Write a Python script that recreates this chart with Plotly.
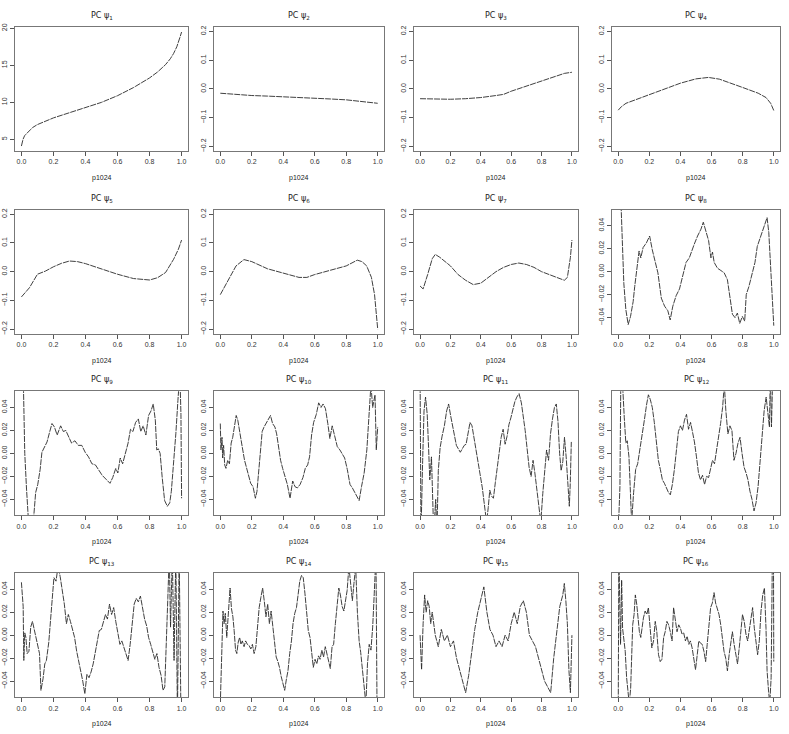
import plotly.graph_objects as go

# ---------------- data ----------------
titles = ["PC ψ<sub>%d</sub>" % i for i in range(1, 17)]
x_label = "p1024"
x_ticks = [0.0, 0.2, 0.4, 0.6, 0.8, 1.0]
y_ticks_pc1 = [5, 10, 15, 20]
y_ticks_mid = [-0.2, -0.1, 0.0, 0.1, 0.2]
y_ticks_small = [-0.04, -0.02, 0.0, 0.02, 0.04]

psi1_x = [0.0, 0.005, 0.01, 0.02, 0.04, 0.07, 0.1, 0.15, 0.2, 0.3, 0.4, 0.5, 0.6, 0.7, 0.8, 0.85, 0.9, 0.93, 0.95, 0.97, 0.99, 1.0]
psi1_y = [4.1, 4.6, 5.0, 5.5, 6.0, 6.6, 7.0, 7.5, 7.9, 8.6, 9.25, 10.0, 10.9, 12.0, 13.3, 14.1, 15.1, 15.9, 16.6, 17.5, 18.8, 19.5]

psi2_x = [0.0, 0.1, 0.2, 0.3, 0.4, 0.5, 0.6, 0.7, 0.8, 0.9, 1.0]
psi2_y = [-0.015, -0.02, -0.023, -0.025, -0.027, -0.030, -0.032, -0.035, -0.038, -0.043, -0.05]

psi3_x = [0.0, 0.1, 0.2, 0.3, 0.4, 0.5, 0.55, 0.6, 0.7, 0.8, 0.9, 0.95, 1.0]
psi3_y = [-0.034, -0.035, -0.036, -0.034, -0.030, -0.023, -0.019, -0.008, 0.009, 0.027, 0.044, 0.054, 0.058]

psi4_x = [0.0, 0.02, 0.05, 0.1, 0.2, 0.3, 0.4, 0.5, 0.58, 0.65, 0.7, 0.8, 0.9, 0.95, 0.98, 1.0]
psi4_y = [-0.074, -0.062, -0.05, -0.04, -0.02, 0.0, 0.02, 0.035, 0.04, 0.034, 0.025, 0.005, -0.015, -0.03, -0.05, -0.075]

psi5_x = [0.0, 0.05, 0.1, 0.15, 0.2, 0.25, 0.3, 0.35, 0.4, 0.5, 0.6, 0.7, 0.8, 0.85, 0.9, 0.95, 0.98, 1.0]
psi5_y = [-0.088, -0.056, -0.009, 0.002, 0.017, 0.029, 0.037, 0.035, 0.028, 0.010, -0.009, -0.024, -0.029, -0.021, -0.003, 0.043, 0.078, 0.11]

psi6_x = [0.0, 0.03, 0.06, 0.1, 0.15, 0.2, 0.3, 0.4, 0.5, 0.55, 0.6, 0.7, 0.8, 0.87, 0.9, 0.93, 0.96, 0.98, 1.0]
psi6_y = [-0.08, -0.05, -0.02, 0.02, 0.042, 0.035, 0.01, -0.005, -0.02, -0.02, -0.01, 0.005, 0.02, 0.04, 0.035, 0.02, -0.02, -0.08, -0.2]

psi7_x = [0.0, 0.02, 0.05, 0.08, 0.1, 0.13, 0.2, 0.25, 0.3, 0.35, 0.4, 0.45, 0.5, 0.55, 0.6, 0.65, 0.7, 0.75, 0.8, 0.85, 0.9, 0.95, 0.97, 0.99, 1.0]
psi7_y = [-0.05, -0.06, -0.01, 0.045, 0.06, 0.05, 0.02, -0.01, -0.03, -0.045, -0.04, -0.02, 0.0, 0.015, 0.025, 0.03, 0.025, 0.015, 0.0, -0.01, -0.02, -0.03, -0.02, 0.05, 0.11]

psi8_x = [0.015, 0.021, 0.036, 0.049, 0.064, 0.079, 0.096, 0.106, 0.117, 0.134, 0.145, 0.16, 0.181, 0.202, 0.219, 0.24, 0.255, 0.277, 0.298, 0.319, 0.334, 0.351, 0.372, 0.394, 0.415, 0.436, 0.457, 0.474, 0.489, 0.51, 0.532, 0.547, 0.564, 0.581, 0.596, 0.606, 0.617, 0.638, 0.66, 0.681, 0.702, 0.717, 0.734, 0.751, 0.766, 0.781, 0.798, 0.813, 0.823, 0.84, 0.862, 0.879, 0.894, 0.909, 0.926, 0.943, 0.957, 0.968, 0.979, 0.989, 1.0]
psi8_y = [0.07, 0.047, -0.01, -0.033, -0.046, -0.039, -0.026, -0.013, 0.0, 0.018, 0.012, 0.021, 0.025, 0.031, 0.019, 0.008, -0.001, -0.023, -0.03, -0.034, -0.042, -0.03, -0.021, -0.015, -0.004, 0.008, 0.012, 0.019, 0.024, 0.031, 0.037, 0.043, 0.034, 0.027, 0.012, 0.017, 0.008, 0.003, 0.001, -0.001, -0.007, -0.023, -0.037, -0.04, -0.036, -0.045, -0.039, -0.043, -0.02, -0.013, -0.001, 0.008, 0.022, 0.028, 0.036, 0.043, 0.047, 0.034, 0.005, -0.018, -0.047]

psi9_x = [0.011, 0.021, 0.032, 0.049, 0.074, 0.089, 0.102, 0.117, 0.128, 0.145, 0.16, 0.177, 0.191, 0.206, 0.223, 0.245, 0.262, 0.277, 0.298, 0.313, 0.334, 0.355, 0.377, 0.398, 0.419, 0.44, 0.462, 0.483, 0.504, 0.532, 0.553, 0.57, 0.589, 0.602, 0.617, 0.632, 0.649, 0.666, 0.681, 0.696, 0.713, 0.73, 0.745, 0.76, 0.777, 0.794, 0.809, 0.823, 0.836, 0.845, 0.855, 0.866, 0.879, 0.894, 0.911, 0.926, 0.936, 0.951, 0.964, 0.977, 0.989, 0.996, 1.0]
psi9_y = [0.07, 0.0, -0.031, -0.07, -0.06, -0.034, -0.027, -0.014, 0.001, 0.006, 0.01, 0.019, 0.026, 0.023, 0.016, 0.024, 0.019, 0.02, 0.013, 0.009, 0.011, 0.007, 0.007, 0.001, -0.003, -0.009, -0.01, -0.014, -0.019, -0.023, -0.026, -0.021, -0.013, -0.017, -0.004, -0.009, 0.001, 0.009, 0.021, 0.019, 0.027, 0.03, 0.019, 0.024, 0.016, 0.033, 0.037, 0.043, 0.029, 0.003, 0.004, 0.0, -0.021, -0.041, -0.046, -0.043, -0.033, -0.009, 0.017, 0.046, 0.07, 0.034, -0.039]

psi10_x = [0.0, 0.004, 0.011, 0.015, 0.021, 0.028, 0.036, 0.047, 0.058, 0.069, 0.079, 0.09, 0.101, 0.111, 0.122, 0.139, 0.154, 0.176, 0.193, 0.208, 0.223, 0.233, 0.246, 0.255, 0.266, 0.278, 0.293, 0.304, 0.319, 0.332, 0.347, 0.358, 0.368, 0.383, 0.396, 0.411, 0.426, 0.443, 0.46, 0.475, 0.49, 0.507, 0.525, 0.54, 0.555, 0.567, 0.58, 0.593, 0.61, 0.625, 0.64, 0.653, 0.668, 0.683, 0.696, 0.711, 0.726, 0.743, 0.76, 0.775, 0.79, 0.807, 0.824, 0.839, 0.854, 0.867, 0.882, 0.897, 0.914, 0.931, 0.946, 0.957, 0.968, 0.983, 0.991, 1.0]
psi10_y = [0.026, 0.003, 0.014, -0.004, 0.007, -0.01, -0.013, -0.006, -0.009, 0.009, 0.014, 0.026, 0.033, 0.029, 0.021, 0.006, -0.006, -0.017, -0.026, -0.029, -0.039, -0.033, -0.014, 0.003, 0.019, 0.023, 0.027, 0.029, 0.033, 0.026, 0.023, 0.017, 0.007, -0.006, -0.013, -0.019, -0.027, -0.039, -0.024, -0.029, -0.03, -0.027, -0.021, -0.013, -0.01, -0.003, 0.016, 0.027, 0.034, 0.044, 0.04, 0.043, 0.039, 0.026, 0.013, 0.024, 0.016, 0.006, 0.003, 0.0, -0.004, -0.014, -0.027, -0.03, -0.034, -0.037, -0.041, -0.029, -0.017, 0.003, 0.029, 0.06, 0.04, 0.051, 0.003, 0.023]

psi11_x = [0.0, 0.006, 0.017, 0.026, 0.036, 0.047, 0.056, 0.064, 0.075, 0.081, 0.09, 0.103, 0.111, 0.12, 0.132, 0.145, 0.16, 0.175, 0.188, 0.201, 0.214, 0.226, 0.239, 0.252, 0.265, 0.278, 0.291, 0.303, 0.316, 0.329, 0.342, 0.355, 0.368, 0.38, 0.395, 0.41, 0.423, 0.438, 0.449, 0.459, 0.47, 0.483, 0.496, 0.509, 0.524, 0.534, 0.547, 0.56, 0.573, 0.585, 0.598, 0.611, 0.624, 0.637, 0.652, 0.667, 0.679, 0.692, 0.705, 0.718, 0.731, 0.744, 0.756, 0.769, 0.782, 0.795, 0.808, 0.821, 0.833, 0.846, 0.859, 0.872, 0.885, 0.897, 0.908, 0.919, 0.929, 0.94, 0.951, 0.962, 0.972, 0.983, 0.989, 0.996]
psi11_y = [0.07, -0.07, -0.006, 0.037, 0.049, 0.034, 0.005, -0.023, -0.003, -0.029, -0.07, -0.04, -0.07, -0.015, 0.005, 0.015, 0.024, 0.037, 0.043, 0.033, 0.024, 0.015, 0.007, 0.004, 0.001, 0.004, 0.007, 0.008, 0.018, 0.027, 0.024, 0.014, 0.005, -0.003, -0.018, -0.03, -0.042, -0.06, -0.047, -0.032, -0.037, -0.039, -0.025, -0.012, 0.0, 0.014, 0.021, 0.008, 0.015, 0.025, 0.031, 0.038, 0.045, 0.049, 0.052, 0.044, 0.034, 0.02, 0.004, -0.012, -0.02, -0.006, -0.017, -0.03, -0.04, -0.06, -0.035, -0.017, 0.003, -0.006, 0.017, 0.03, 0.04, 0.043, 0.028, 0.0, -0.015, -0.007, 0.014, -0.003, -0.029, -0.046, -0.026, 0.01]

psi12_x = [0.0, 0.011, 0.017, 0.028, 0.039, 0.049, 0.058, 0.069, 0.077, 0.086, 0.099, 0.112, 0.125, 0.14, 0.155, 0.168, 0.183, 0.194, 0.206, 0.219, 0.232, 0.245, 0.258, 0.271, 0.284, 0.297, 0.31, 0.323, 0.335, 0.348, 0.361, 0.374, 0.387, 0.4, 0.413, 0.426, 0.439, 0.452, 0.465, 0.477, 0.49, 0.503, 0.516, 0.529, 0.542, 0.555, 0.568, 0.581, 0.594, 0.606, 0.619, 0.632, 0.645, 0.658, 0.671, 0.682, 0.692, 0.705, 0.718, 0.731, 0.744, 0.757, 0.77, 0.783, 0.796, 0.809, 0.822, 0.834, 0.847, 0.86, 0.873, 0.886, 0.899, 0.912, 0.925, 0.938, 0.951, 0.963, 0.972, 0.978, 0.985, 0.994]
psi12_y = [-0.07, -0.029, 0.07, 0.06, 0.031, 0.009, 0.011, -0.003, -0.029, -0.06, -0.034, -0.014, -0.009, 0.004, 0.014, 0.029, 0.043, 0.051, 0.047, 0.04, 0.027, 0.01, -0.006, -0.014, -0.023, -0.026, -0.03, -0.034, -0.036, -0.027, -0.014, 0.0, 0.019, 0.024, 0.02, 0.029, 0.034, 0.021, 0.027, 0.019, 0.01, -0.003, -0.017, -0.023, -0.019, -0.027, -0.02, -0.021, -0.012, -0.006, -0.009, 0.003, 0.011, 0.026, 0.04, 0.06, 0.037, 0.017, 0.024, 0.02, -0.006, 0.0, 0.009, 0.014, 0.0, -0.012, -0.017, -0.023, -0.033, -0.04, -0.05, -0.043, -0.029, -0.006, 0.017, 0.037, 0.049, 0.034, 0.023, 0.07, 0.023, 0.07]

psi13_x = [0.0, 0.011, 0.015, 0.021, 0.028, 0.036, 0.047, 0.058, 0.069, 0.079, 0.09, 0.101, 0.113, 0.122, 0.135, 0.146, 0.156, 0.171, 0.182, 0.193, 0.203, 0.216, 0.229, 0.242, 0.255, 0.268, 0.281, 0.293, 0.306, 0.319, 0.332, 0.345, 0.358, 0.37, 0.383, 0.396, 0.409, 0.422, 0.435, 0.448, 0.46, 0.473, 0.486, 0.499, 0.512, 0.525, 0.537, 0.55, 0.563, 0.576, 0.589, 0.602, 0.615, 0.627, 0.64, 0.653, 0.666, 0.679, 0.692, 0.704, 0.717, 0.73, 0.743, 0.756, 0.769, 0.782, 0.794, 0.807, 0.82, 0.833, 0.846, 0.859, 0.872, 0.884, 0.895, 0.906, 0.914, 0.923, 0.931, 0.942, 0.953, 0.964, 0.974, 0.985, 0.996]
psi13_y = [0.046, 0.025, -0.022, 0.002, -0.002, -0.016, -0.014, 0.007, 0.012, 0.005, -0.002, -0.008, -0.016, -0.048, -0.038, -0.025, -0.022, -0.006, 0.012, 0.036, 0.05, 0.047, 0.06, 0.051, 0.039, 0.027, 0.01, 0.018, 0.012, 0.004, -0.002, -0.014, -0.022, -0.031, -0.04, -0.051, -0.034, -0.037, -0.032, -0.025, -0.016, -0.008, 0.004, 0.005, 0.011, 0.018, 0.014, 0.027, 0.018, 0.024, 0.012, 0.001, -0.008, -0.005, -0.011, -0.018, -0.022, -0.008, 0.012, 0.027, 0.032, 0.029, 0.034, 0.024, 0.014, 0.008, -0.002, -0.008, -0.014, -0.021, -0.016, -0.028, -0.035, -0.048, -0.045, -0.008, 0.032, 0.07, 0.007, 0.07, -0.022, 0.07, -0.07, 0.07, -0.07]

psi14_x = [0.0, 0.006, 0.011, 0.017, 0.024, 0.032, 0.041, 0.049, 0.058, 0.062, 0.071, 0.08, 0.088, 0.097, 0.105, 0.114, 0.123, 0.131, 0.14, 0.151, 0.161, 0.172, 0.183, 0.194, 0.204, 0.215, 0.226, 0.237, 0.247, 0.258, 0.269, 0.28, 0.29, 0.301, 0.312, 0.323, 0.333, 0.344, 0.355, 0.366, 0.376, 0.387, 0.398, 0.409, 0.419, 0.43, 0.441, 0.452, 0.462, 0.473, 0.484, 0.495, 0.505, 0.516, 0.527, 0.538, 0.548, 0.559, 0.57, 0.581, 0.591, 0.602, 0.613, 0.624, 0.634, 0.645, 0.656, 0.667, 0.677, 0.688, 0.699, 0.71, 0.72, 0.731, 0.742, 0.753, 0.763, 0.774, 0.785, 0.796, 0.806, 0.817, 0.828, 0.839, 0.849, 0.86, 0.871, 0.882, 0.892, 0.903, 0.914, 0.925, 0.935, 0.946, 0.957, 0.968, 0.978, 0.989, 0.996]
psi14_y = [-0.06, -0.031, -0.005, 0.021, 0.01, 0.019, -0.002, 0.013, 0.027, 0.041, 0.023, 0.016, 0.004, -0.013, -0.016, -0.006, -0.002, -0.008, -0.005, -0.01, -0.005, -0.008, -0.009, -0.012, -0.008, -0.016, -0.01, 0.01, 0.024, 0.033, 0.041, 0.029, 0.016, 0.027, 0.01, 0.021, 0.007, -0.008, -0.019, -0.023, -0.028, -0.036, -0.042, -0.048, -0.039, -0.031, -0.016, -0.005, 0.01, 0.019, 0.024, 0.036, 0.047, 0.052, 0.05, 0.036, 0.021, 0.004, -0.002, -0.019, -0.028, -0.021, -0.025, -0.018, -0.021, -0.013, -0.019, -0.01, -0.016, -0.022, -0.029, -0.01, -0.008, 0.01, 0.024, 0.041, 0.035, 0.025, 0.021, 0.03, 0.039, 0.06, 0.045, 0.03, 0.045, 0.06, 0.02, -0.005, -0.015, -0.031, -0.048, -0.06, -0.025, -0.008, -0.013, 0.007, 0.036, 0.07, -0.07]

psi15_x = [0.0, 0.01, 0.02, 0.03, 0.04, 0.05, 0.06, 0.07, 0.08, 0.1, 0.12, 0.14, 0.16, 0.18, 0.2, 0.22, 0.24, 0.26, 0.28, 0.3, 0.32, 0.34, 0.36, 0.38, 0.4, 0.42, 0.44, 0.46, 0.48, 0.5, 0.52, 0.54, 0.56, 0.58, 0.6, 0.62, 0.64, 0.66, 0.68, 0.7, 0.72, 0.74, 0.76, 0.78, 0.8, 0.82, 0.84, 0.86, 0.88, 0.9, 0.92, 0.94, 0.95, 0.96, 0.97, 0.98, 0.99, 1.0]
psi15_y = [0.0, -0.03, 0.01, 0.035, 0.02, 0.03, 0.025, 0.01, 0.02, 0.0, -0.01, 0.005, -0.005, 0.0, -0.01, -0.005, -0.02, -0.03, -0.04, -0.05, -0.035, -0.015, 0.005, 0.02, 0.03, 0.042, 0.02, 0.005, 0.0, -0.01, -0.005, -0.01, 0.0, -0.005, 0.01, 0.02, 0.01, 0.025, 0.03, 0.02, 0.0, -0.005, -0.01, -0.02, -0.03, -0.04, -0.045, -0.05, -0.02, 0.005, 0.025, 0.035, 0.045, 0.03, 0.01, -0.03, -0.05, 0.0]

psi16_x = [0.0, 0.004, 0.015, 0.022, 0.028, 0.037, 0.045, 0.054, 0.063, 0.071, 0.08, 0.086, 0.093, 0.102, 0.11, 0.119, 0.127, 0.136, 0.145, 0.153, 0.162, 0.173, 0.184, 0.194, 0.205, 0.216, 0.227, 0.238, 0.248, 0.259, 0.27, 0.281, 0.292, 0.302, 0.313, 0.324, 0.335, 0.346, 0.356, 0.367, 0.378, 0.389, 0.4, 0.41, 0.421, 0.432, 0.443, 0.454, 0.464, 0.475, 0.486, 0.497, 0.508, 0.518, 0.529, 0.54, 0.551, 0.562, 0.572, 0.583, 0.594, 0.605, 0.616, 0.626, 0.637, 0.648, 0.659, 0.67, 0.68, 0.691, 0.702, 0.713, 0.724, 0.734, 0.745, 0.756, 0.767, 0.778, 0.788, 0.799, 0.81, 0.821, 0.832, 0.842, 0.853, 0.864, 0.875, 0.886, 0.896, 0.907, 0.918, 0.929, 0.94, 0.95, 0.957, 0.965, 0.974, 0.983, 0.991, 0.998, 1.0]
psi16_y = [-0.07, 0.07, -0.008, 0.048, 0.006, -0.005, -0.014, -0.037, -0.049, -0.06, -0.046, -0.014, 0.009, 0.018, 0.035, 0.027, 0.012, 0.003, -0.002, 0.006, 0.015, 0.021, 0.018, 0.024, 0.003, -0.011, -0.005, 0.012, 0.003, -0.017, -0.023, -0.021, -0.002, 0.003, 0.012, 0.009, 0.003, -0.005, 0.024, 0.012, 0.003, 0.009, 0.006, 0.001, 0.002, -0.005, -0.001, -0.008, -0.005, -0.011, -0.02, -0.03, -0.017, -0.005, -0.007, -0.008, -0.014, -0.023, -0.008, 0.009, 0.024, 0.028, 0.037, 0.028, 0.022, 0.018, 0.009, -0.005, -0.014, -0.02, -0.031, -0.017, -0.005, 0.003, -0.008, -0.017, -0.025, -0.011, 0.003, 0.018, 0.012, 0.001, -0.005, 0.003, 0.012, 0.024, 0.006, -0.008, -0.017, -0.005, 0.021, 0.035, 0.041, 0.006, -0.031, -0.046, -0.06, -0.037, 0.07, 0.07, -0.023]

series_x = [psi1_x, psi2_x, psi3_x, psi4_x, psi5_x, psi6_x, psi7_x, psi8_x,
            psi9_x, psi10_x, psi11_x, psi12_x, psi13_x, psi14_x, psi15_x, psi16_x]
series_y = [psi1_y, psi2_y, psi3_y, psi4_y, psi5_y, psi6_y, psi7_y, psi8_y,
            psi9_y, psi10_y, psi11_y, psi12_y, psi13_y, psi14_y, psi15_y, psi16_y]

# ---------------- layout ----------------
W, H = 789, 734
col_px = [(15, 188), (214, 384), (414, 578), (612, 780)]
row_px = [(23, 148), (207, 332), (390, 515), (573, 698)]
FONT = "Liberation Sans, Arial, sans-serif"
TITLE_FONT = "DejaVu Sans, Liberation Sans, sans-serif"

fig = go.Figure()
layout = dict(
    width=W, height=H, margin=dict(l=0, r=0, t=0, b=0),
    paper_bgcolor="white", plot_bgcolor="white", showlegend=False,
    font=dict(family=FONT, size=7, color="#222"),
)
annotations = []

for i in range(16):
    r, c = divmod(i, 4)
    sfx = "" if i == 0 else str(i + 1)
    xa, ya = "x" + sfx, "y" + sfx
    x0, x1 = col_px[c]
    y0, y1 = row_px[r]
    if i == 0:
        yrange, yticks, yfmt = [3.43, 20.2], y_ticks_pc1, "d"
    elif i < 7:
        yrange, yticks, yfmt = [-0.216, 0.216], y_ticks_mid, ".1f"
    else:
        yrange, yticks, yfmt = [-0.054, 0.054], y_ticks_small, ".2f"

    fig.add_trace(go.Scatter(x=series_x[i], y=series_y[i], mode="lines",
                             line=dict(color="#2a2a2a", width=0.9, dash="6px,1px"),
                             xaxis=xa, yaxis=ya, hoverinfo="skip"))

    layout["xaxis" + sfx] = dict(
        domain=[x0 / W, x1 / W], anchor=ya, range=[-0.04, 1.04],
        tickvals=x_ticks, tickformat=".1f", ticks="outside", ticklen=4,
        tickcolor="#555", tickwidth=1, showgrid=False, zeroline=False,
        showline=True, linecolor="#777", linewidth=1, mirror=True,
        tickfont=dict(size=7, color="#333"), fixedrange=True,
    )
    layout["yaxis" + sfx] = dict(
        domain=[1 - y1 / H, 1 - y0 / H], anchor=xa, range=yrange,
        tickvals=yticks, tickformat=yfmt, ticks="outside", ticklen=4,
        tickcolor="#555", tickwidth=1, showgrid=False, zeroline=False,
        showline=True, linecolor="#777", linewidth=1, mirror=True,
        tickangle=-90, tickfont=dict(size=7, color="#333"), fixedrange=True,
    )
    cx = (x0 + x1) / 2 / W
    annotations.append(dict(text=titles[i], x=cx, y=1 - (y0 - 11) / H,
                            xref="paper", yref="paper", showarrow=False,
                            xanchor="center", yanchor="middle",
                            font=dict(family=TITLE_FONT, size=8, color="#222")))
    annotations.append(dict(text=x_label, x=cx, y=1 - (y1 + 27) / H,
                            xref="paper", yref="paper", showarrow=False,
                            xanchor="center", yanchor="middle",
                            font=dict(size=7, color="#222")))

layout["annotations"] = annotations
fig.update_layout(**layout)
# remove the default 8px page margin so the 789x734 figure fills the window exactly
fig.write_html("out.html", config={"displayModeBar": False},
               post_script="document.body.style.margin='0px';")
